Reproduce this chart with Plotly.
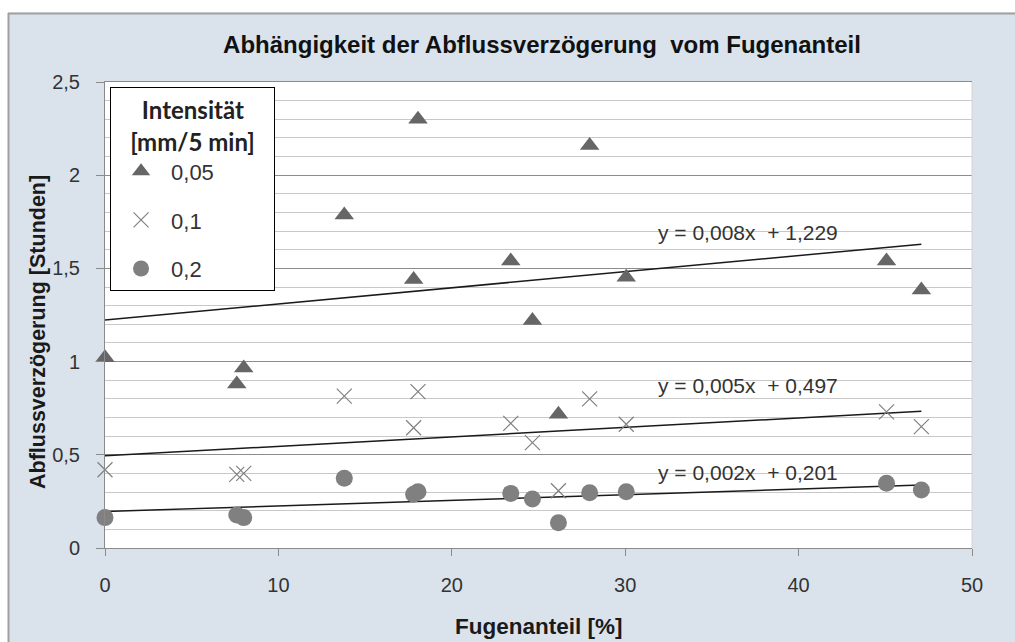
import numpy as np
import plotly.graph_objects as go

# ---- data ----
fugenanteil = [0, 7.6, 8.0, 13.8, 17.8, 18.05, 23.4, 24.65, 26.15, 27.95, 30.06, 45.07, 47.08]
fuge_01 = [0, 7.6, 8.0, 13.8, 17.8, 18.05, 23.4, 24.65, 26.15, 27.95, 30.06, 45.07, 47.08]
fuge_02 = [0, 7.6, 8.0, 13.8, 17.8, 18.05, 23.4, 24.65, 26.15, 27.95, 30.06, 45.07, 47.08]

verz_005 = [1.02, 0.88, 0.965, 1.786, 1.44, 2.30, 1.54, 1.22, 0.717, 2.16, 1.452, 1.54, 1.384]
verz_01 = [0.42, 0.395, 0.40, 0.815, 0.645, 0.839, 0.669, 0.565, 0.307, 0.80, 0.664, 0.73, 0.651]
verz_02 = [0.163, 0.177, 0.163, 0.374, 0.288, 0.302, 0.293, 0.263, 0.136, 0.297, 0.302, 0.347, 0.311]

series_names = ["0,05", "0,1", "0,2"]
trend_labels = ["y = 0,008x  + 1,229", "y = 0,005x  + 0,497", "y = 0,002x  + 0,201"]

title_text = "Abhängigkeit der Abflussverzögerung  vom Fugenanteil"
x_title = "Fugenanteil [%]"
y_title = "Abflussverzögerung [Stunden]"
legend_title_lines = ["Intensität", "[mm/5 min]"]

FONT = "Liberation Sans, Arial, sans-serif"
TXT = "#333333"
NB = "&nbsp;"

fig = go.Figure()

xs_list = [fugenanteil, fuge_01, fuge_02]
ys_list = [verz_005, verz_01, verz_02]
markers = [
    dict(symbol="triangle-up", size=17, color="#666666"),
    dict(symbol="x-thin", size=15, color="#808080", line=dict(width=1.2, color="#808080")),
    dict(symbol="circle", size=17, color="#808080"),
]

# trend lines (linear regression of each series)
for xs, ys in zip(xs_list, ys_list):
    k, d = np.polyfit(xs, ys, 1)
    xl = np.array([min(xs), max(xs)])
    fig.add_trace(go.Scatter(x=xl, y=k * xl + d, mode="lines",
                             line=dict(color="#1a1a1a", width=1.5),
                             showlegend=False, hoverinfo="skip"))

for i, (xs, ys) in enumerate(zip(xs_list, ys_list)):
    fig.add_trace(go.Scatter(x=xs, y=ys, mode="markers",
                             name=series_names[i] + NB * (9 + 2 * (len("0,05") - len(series_names[i]))),
                             legendgroup=f"g{i}", marker=markers[i],
                             cliponaxis=False))

# trend equation labels
label_pos = [(37.1, 1.69), (37.1, 0.871), (37.1, 0.404)]
for (lx, ly), txt in zip(label_pos, trend_labels):
    fig.add_annotation(x=lx, y=ly, xref="x", yref="y", text=txt, showarrow=False,
                       font=dict(family=FONT, size=21, color=TXT))

# axis titles as annotations
fig.add_annotation(x=0.5, y=-0.1695, xref="paper", yref="paper", text=f"<b>{x_title}</b>",
                   showarrow=False, font=dict(family=FONT, size=22.5, color="#1a1a1a"),
                   xanchor="center", yanchor="middle")
fig.add_annotation(x=-0.0773, y=0.4635, xref="paper", yref="paper", text=f"<b>{y_title}</b>",
                   showarrow=False, textangle=-90, font=dict(family=FONT, size=21.5, color="#1a1a1a"),
                   xanchor="center", yanchor="middle")

shapes = [
    # white strips outside the chart frame
    dict(type="rect", xref="paper", yref="paper", x0=-0.2, x1=1.2, y0=1.149, y1=1.3,
         fillcolor="white", line=dict(width=0), layer="below"),
    dict(type="rect", xref="paper", yref="paper", x0=-0.2, x1=-0.1119, y0=-0.3, y1=1.3,
         fillcolor="white", line=dict(width=0), layer="below"),
    # frame border
    dict(type="line", xref="paper", yref="paper", x0=-0.1119, x1=1.2, y0=1.147, y1=1.147,
         line=dict(color="#a0a0a0", width=2)),
    dict(type="line", xref="paper", yref="paper", x0=-0.1113, x1=-0.1113, y0=-0.3, y1=1.148,
         line=dict(color="#a0a0a0", width=2)),
    # right edge of plot area
    dict(type="line", xref="paper", yref="paper", x0=1, x1=1, y0=0, y1=1,
         line=dict(color="#d4d4d4", width=1)),
]

legend_title = f"<b>{NB * 2}{legend_title_lines[0]}</b><br><b>{legend_title_lines[1]}</b>"

W, H = 1015, 642
fig.update_layout(
    width=W, height=H,
    margin=dict(l=105, r=43, t=82, b=94, autoexpand=False),
    paper_bgcolor="#dae3ec",
    plot_bgcolor="white",
    separators=",.",
    font=dict(family=FONT, size=16, color=TXT),
    title=dict(text=f"<b>{title_text}</b>", x=542 / W, xanchor="center",
               y=1 - 45 / H, yanchor="middle",
               font=dict(family=FONT, size=24, color="#111111")),
    shapes=shapes,
    showlegend=True,
    legend=dict(
        x=0.0058, y=0.989, xanchor="left", yanchor="top",
        bgcolor="white", bordercolor="#000000", borderwidth=1,
        title=dict(text=legend_title, side="top center",
                   font=dict(family="Lato, Open Sans, sans-serif", size=24, color="#222222")),
        font=dict(family=FONT, size=22, color=TXT),
        tracegroupgap=17,
        itemsizing="trace",
        itemwidth=50,
    ),
    xaxis=dict(
        range=[0, 50], dtick=10, tick0=0, showgrid=False, zeroline=False,
        showline=True, linecolor="#8a8a8a", linewidth=1, mirror=True,
        ticks="outside", ticklen=7, tickcolor="#8a8a8a",
        ticklabelstandoff=12,
        tickfont=dict(family=FONT, size=20, color=TXT),
        automargin=False,
    ),
    yaxis=dict(
        range=[0, 2.5], dtick=0.5, tick0=0, showgrid=True, gridcolor="#8c8c8c", gridwidth=1,
        zeroline=False, showline=True, linecolor="#8a8a8a", linewidth=1,
        ticks="outside", ticklen=8, tickcolor="#8a8a8a",
        ticklabelstandoff=12,
        minor=dict(dtick=0.1, showgrid=True, gridcolor="#c8c8c8", gridwidth=1),
        tickfont=dict(family=FONT, size=20, color=TXT),
        automargin=False,
    ),
)

fig.write_html("out.html",
               config={"displayModeBar": False},
               post_script="document.body.style.margin='0';"
                           "document.documentElement.style.overflow='hidden';"
                           "document.body.style.overflow='hidden';")
